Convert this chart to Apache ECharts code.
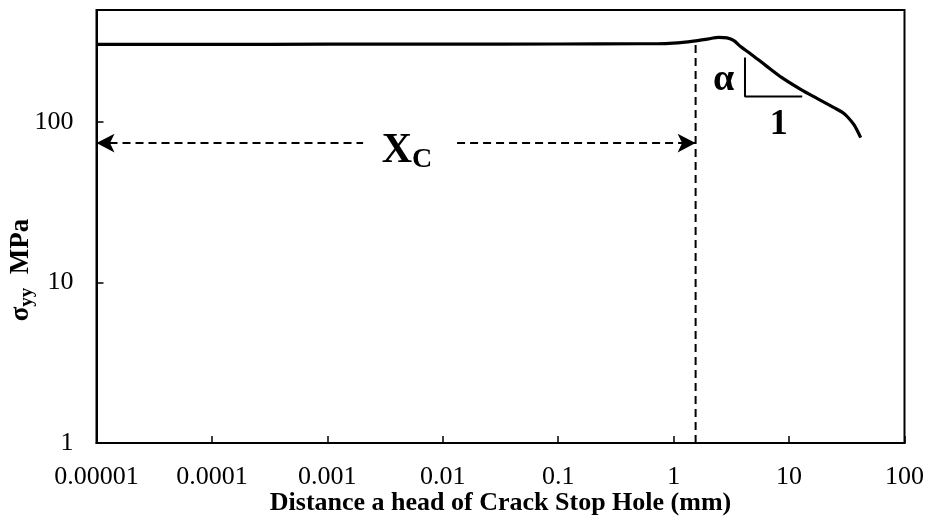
<!DOCTYPE html>
<html>
<head>
<meta charset="utf-8">
<script src="https://cdn.jsdelivr.net/npm/echarts@6/dist/echarts.min.js"></script>
<style>
  html, body { margin: 0; padding: 0; background: #fff; }
  #chart { width: 930px; height: 531px; }
</style>
</head>
<body>
<div id="chart"></div>
<script>
// Stress ahead of the crack stop hole (log-log)
const distanceMm = [0.00001, 0.0001, 0.001, 0.01, 0.1, 0.5, 0.85, 1.2, 1.55, 2.0, 2.45, 2.9, 3.33, 3.8, 4.6, 6.3, 8.6, 12.6, 17.6, 24.5, 29, 32, 36.6, 41.7];
const stressMPa  = [305, 305, 306, 306, 307, 308, 309, 314, 321, 330, 338, 335, 322, 296, 268, 225, 190, 160, 140, 123, 115, 108, 96, 80];

const xTickLabels = ['0.00001', '0.0001', '0.001', '0.01', '0.1', '1', '10', '100'];
const yTickLabels = ['1', '10', '100'];

// Annotation geometry (data coordinates)
const xcDistance = 1.55;      // critical distance Xc
const xcStressTop = 321;
const arrowStress = 74;
const arrowGap = [0.00204, 0.0133];
const slopeTriangle = { x: [4.15, 13.0], y: [253, 144.5] };

const serif = '"Liberation Serif", "Times New Roman", serif';

const chart = echarts.init(document.getElementById('chart'), null, { renderer: 'canvas' });

function decadeIndex(v, minExp) {
  return Math.round(Math.log10(v)) - minExp;
}

const dashed = { color: '#000', width: 2, type: [8, 5] };

chart.setOption({
  animation: false,
  backgroundColor: '#fff',
  grid: {
    left: 96.5, right: 25.5, top: 10, bottom: 88,
    outerBoundsMode: 'none', containLabel: false,
    show: true, borderColor: '#000', borderWidth: 2, backgroundColor: 'transparent'
  },
  xAxis: {
    type: 'log', logBase: 10, min: 0.00001, max: 100,
    name: 'Distance a head of Crack Stop Hole (mm)',
    nameLocation: 'middle', nameGap: 47, nameMoveOverlap: false,
    nameTextStyle: { fontFamily: serif, fontWeight: 'bold', fontSize: 26, color: '#000' },
    axisLine: { lineStyle: { color: '#000', width: 2 } },
    axisTick: { inside: true, length: 7, lineStyle: { color: '#000', width: 1.5 } },
    axisLabel: {
      fontFamily: serif, fontSize: 26, color: '#000', margin: 21,
      formatter: v => xTickLabels[decadeIndex(v, -5)] ?? ''
    },
    splitLine: { show: false }
  },
  yAxis: {
    type: 'log', logBase: 10, min: 1, max: 500,
    name: '{s|σ}{sub|yy}{s|  MPa}',
    nameLocation: 'middle', nameGap: 60, nameRotate: 90, nameMoveOverlap: false,
    nameTextStyle: {
      color: '#000',
      padding: [0, 87, 0, 0],
      rich: {
        s: { fontFamily: serif, fontWeight: 'bold', fontSize: 27, color: '#000' },
        sub: { fontFamily: serif, fontWeight: 'bold', fontSize: 19, color: '#000', padding: [12, 0, 0, 0] }
      }
    },
    axisLine: { lineStyle: { color: '#000', width: 2 } },
    axisTick: { inside: true, length: 7, lineStyle: { color: '#000', width: 1.5 } },
    axisLabel: {
      fontFamily: serif, fontSize: 26, color: '#000', margin: 23,
      showMaxLabel: false,
      formatter: v => {
        const e = Math.log10(v);
        return Math.abs(e - Math.round(e)) < 1e-6 ? (yTickLabels[Math.round(e)] ?? '') : '';
      }
    },
    splitLine: { show: false }
  },
  series: [
    {
      name: 'σyy',
      type: 'line',
      data: distanceMm.map((d, i) => [d, stressMPa[i]]),
      showSymbol: false,
      smooth: 0.3,
      lineStyle: { color: '#000', width: 3.2 },
      z: 5
    },
    {
      // vertical marker at Xc
      type: 'line',
      data: [[xcDistance, 1], [xcDistance, xcStressTop]],
      showSymbol: false,
      lineStyle: dashed,
      z: 3
    },
    {
      // slope triangle
      type: 'line',
      data: [[slopeTriangle.x[0], slopeTriangle.y[0]], [slopeTriangle.x[0], slopeTriangle.y[1]], [slopeTriangle.x[1], slopeTriangle.y[1]]],
      showSymbol: false,
      lineStyle: { color: '#000', width: 2 },
      z: 3,
      markLine: {
        silent: true,
        symbolSize: [14, 18],
        lineStyle: dashed,
        label: { show: false },
        data: [
          [{ coord: [0.00001, arrowStress], symbol: 'arrow' }, { coord: [arrowGap[0], arrowStress], symbol: 'none' }],
          [{ coord: [arrowGap[1], arrowStress], symbol: 'none' }, { coord: [xcDistance, arrowStress], symbol: 'arrow' }]
        ]
      },
      markPoint: {
        silent: true,
        symbol: 'circle', symbolSize: 0,
        data: [
          {
            coord: [0.0049, 65.6],
            label: {
              show: true, formatter: '{x|X}{c|C}',
              rich: {
                x: { fontFamily: serif, fontWeight: 'bold', fontSize: 42, color: '#000' },
                c: { fontFamily: serif, fontWeight: 'bold', fontSize: 28, color: '#000', padding: [16, 0, 0, 0] }
              }
            }
          },
          {
            coord: [2.71, 182],
            label: { show: true, formatter: 'α', fontFamily: serif, fontWeight: 'bold', fontSize: 38, color: '#000' }
          },
          {
            coord: [8.13, 97],
            label: { show: true, formatter: '1', fontFamily: serif, fontWeight: 'bold', fontSize: 36, color: '#000' }
          }
        ]
      }
    }
  ]
});
</script>
</body>
</html>
